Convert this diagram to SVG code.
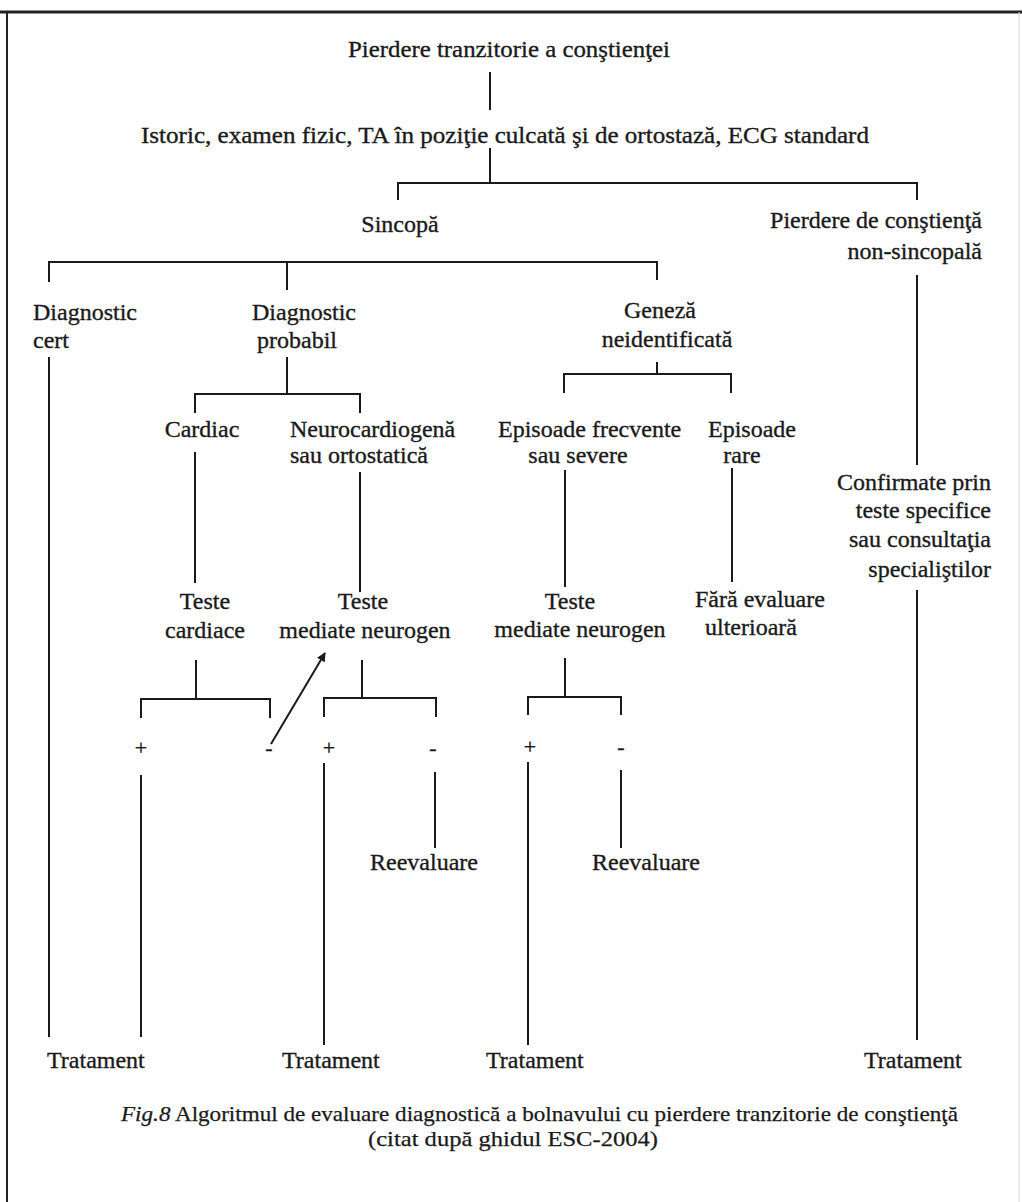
<svg xmlns="http://www.w3.org/2000/svg" width="1022" height="1202" viewBox="0 0 1022 1202">
<defs>
<marker id="ah" viewBox="0 0 10 10" refX="9" refY="5" markerWidth="9" markerHeight="9" orient="auto" markerUnits="userSpaceOnUse">
<path d="M0,0 L10,5 L0,10 z" fill="#1a1a1a"/>
</marker>
<style>
text{font-family:"Liberation Serif","Times New Roman",serif;font-size:24px;fill:#1a1a1a;stroke:#1a1a1a;stroke-width:0.35px}
.s{font-size:22px}
.cap{font-size:21px;stroke-width:0.25px}
.it{font-style:italic}
.m{text-anchor:middle}
.e{text-anchor:end}
.c{fill:none;stroke:#1a1a1a;stroke-width:2}
</style>
</defs>
<rect width="1022" height="1202" fill="#fff"/>
<g id="frame">
<path d="M0,12 H1022" stroke="#222" stroke-width="3" fill="none"/>
<path d="M7,12 V1202" stroke="#222" stroke-width="2" fill="none"/>
<path d="M1019,12 V1202" stroke="#d8d8d8" stroke-width="1" fill="none"/>
</g>
<g id="connectors">
<path class="c" d="M490,72 V110"/>
<path class="c" d="M490,148 V183"/>
<path class="c" d="M398,200 V183 H917 V200"/>
<path class="c" d="M49,282 V262 H657 V280"/>
<path class="c" d="M287,262 V290"/>
<path class="c" d="M49,357 V1037"/>
<path class="c" d="M287,357 V394"/>
<path class="c" d="M195,413 V394 H360 V413"/>
<path class="c" d="M657,362 V374"/>
<path class="c" d="M564,393 V374 H731 V393"/>
<path class="c" d="M195,452 V583"/>
<path class="c" d="M360,472 V592"/>
<path class="c" d="M565,470 V587"/>
<path class="c" d="M732,468 V582"/>
<path class="c" d="M917,275 V465"/>
<path class="c" d="M917,590 V1040"/>
<path class="c" d="M196,660 V699"/>
<path class="c" d="M141,718 V699 H270 V718"/>
<path class="c" d="M362,660 V698"/>
<path class="c" d="M324,717 V698 H436 V717"/>
<path class="c" d="M565,658 V697"/>
<path class="c" d="M528,715 V697 H621 V715"/>
<path class="c" d="M141,775 V1037"/>
<path class="c" d="M324,763 V1045"/>
<path class="c" d="M528,762 V1045"/>
<path class="c" d="M435,772 V848"/>
<path class="c" d="M621,770 V848"/>
<path class="c" d="M271,744 L325,653" marker-end="url(#ah)"/>
</g>
<g id="n-title"><text class="m" x="509" y="57" textLength="322" lengthAdjust="spacingAndGlyphs">Pierdere tranzitorie a conştienţei</text></g>
<g id="n-istoric"><text class="m" x="505" y="143" textLength="728" lengthAdjust="spacingAndGlyphs">Istoric, examen fizic, TA în poziţie culcată şi de ortostază, ECG standard</text></g>
<g id="n-sincopa"><text class="m" x="400" y="232">Sincopă</text></g>
<g id="n-nonsincopala"><text class="e" x="982" y="228">Pierdere de conştienţă</text><text class="e" x="982" y="259">non-sincopală</text></g>
<g id="n-cert"><text x="33" y="320">Diagnostic</text><text x="33" y="348">cert</text></g>
<g id="n-probabil"><text x="252" y="320">Diagnostic</text><text x="257" y="348">probabil</text></g>
<g id="n-geneza"><text class="m" x="660" y="318">Geneză</text><text class="m" x="667" y="347">neidentificată</text></g>
<g id="n-cardiac"><text class="m" x="202" y="437">Cardiac</text></g>
<g id="n-neuro"><text x="290" y="437">Neurocardiogenă</text><text x="290" y="463">sau ortostatică</text></g>
<g id="n-frecvente"><text x="498" y="437">Episoade frecvente</text><text class="m" x="578" y="463">sau severe</text></g>
<g id="n-rare"><text x="708" y="437">Episoade</text><text class="m" x="742" y="463">rare</text></g>
<g id="n-confirmate"><text class="e" x="991" y="490">Confirmate prin</text><text class="e" x="991" y="518">teste specifice</text><text class="e" x="991" y="547">sau consultaţia</text><text class="e" x="991" y="577">specialiştilor</text></g>
<g id="n-teste-cardiace"><text class="m" x="205" y="609">Teste</text><text class="m" x="205" y="638">cardiace</text></g>
<g id="n-teste-neuro1"><text class="m" x="363" y="609">Teste</text><text class="m" x="365" y="638">mediate neurogen</text></g>
<g id="n-teste-neuro2"><text class="m" x="570" y="609">Teste</text><text class="m" x="580" y="637">mediate neurogen</text></g>
<g id="n-fara"><text x="695" y="607">Fără evaluare</text><text x="705" y="635">ulterioară</text></g>
<g id="n-signs">
<text class="s m" x="141" y="755">+</text>
<text class="s m" x="269" y="755">-</text>
<text class="s m" x="329" y="755">+</text>
<text class="s m" x="433" y="755">-</text>
<text class="s m" x="530" y="754">+</text>
<text class="s m" x="621" y="754">-</text>
</g>
<g id="n-reev1"><text x="370" y="870">Reevaluare</text></g>
<g id="n-reev2"><text x="592" y="870">Reevaluare</text></g>
<g id="n-trat1"><text x="47" y="1068">Tratament</text></g>
<g id="n-trat2"><text x="282" y="1068">Tratament</text></g>
<g id="n-trat3"><text x="486" y="1068">Tratament</text></g>
<g id="n-trat4"><text x="864" y="1068">Tratament</text></g>
<g id="caption">
<text class="cap" x="121" y="1121" textLength="837" lengthAdjust="spacingAndGlyphs"><tspan class="it">Fig.8</tspan> Algoritmul  de  evaluare diagnostică a  bolnavului  cu pierdere tranzitorie de  conştienţă</text>
<text class="cap m" x="513" y="1146" textLength="290" lengthAdjust="spacingAndGlyphs">(citat  după ghidul  ESC-2004)</text>
</g>
</svg>
